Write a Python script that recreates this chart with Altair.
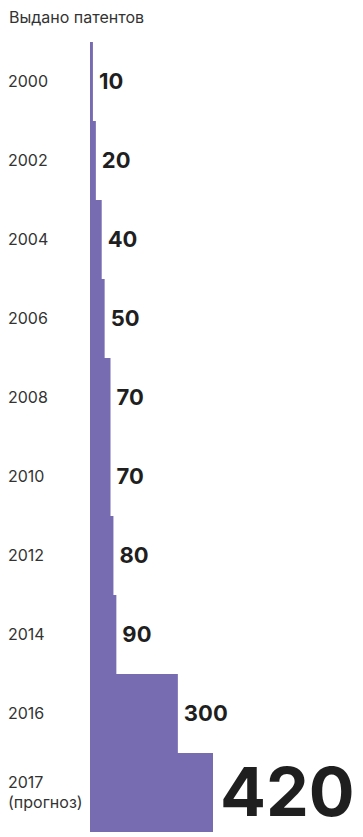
import altair as alt
import pandas as pd

years = ["2000", "2002", "2004", "2006", "2008", "2010", "2012", "2014", "2016", "2017"]
year_labels = ["2000", "2002", "2004", "2006", "2008", "2010", "2012", "2014", "2016", "2017\n(прогноз)"]
patents = [10, 20, 40, 50, 70, 70, 80, 90, 300, 420]
title_text = "Выдано патентов"

df = pd.DataFrame({"year": years, "label": year_labels, "patents": patents})

y = alt.Y("year:N", sort=years, scale=alt.Scale(paddingInner=0, paddingOuter=0), axis=None)
x = alt.X("patents:Q", scale=alt.Scale(domain=[0, 420], range=[82, 205]), axis=None)

base = alt.Chart(df)

bars = base.mark_bar(color="#776bb2").encode(x=x, y=y)

vals = base.transform_filter("datum.year != '2017'").mark_text(
    align="left", baseline="middle", dx=6, font="Inter", fontWeight=700,
    fontSize=22, color="#1f1f1f"
).encode(x=x, y=y, text="patents:Q")

big = base.transform_filter("datum.year == '2017'").mark_text(
    align="left", baseline="middle", dx=7, dy=3, font="Inter", fontWeight=700,
    fontSize=68, color="#1f1f1f"
).encode(x=x, y=y, text="patents:Q")

single = base.transform_filter("datum.year != '2017'").mark_text(
    align="left", baseline="middle", font="Inter", fontSize=16, color="#333333"
).encode(x=alt.value(0), y=y, text="label:N")

multi = base.transform_filter("datum.year == '2017'").mark_text(
    align="left", baseline="middle", lineBreak="\n", lineHeight=20, dy=-10,
    font="Inter", fontSize=16, color="#333333"
).encode(x=alt.value(0), y=y, text="label:N")

title = alt.Chart(pd.DataFrame({"t": [title_text]})).mark_text(
    align="left", baseline="top", font="Inter", fontSize=16, color="#333333"
).encode(x=alt.value(1), y=alt.value(-32), text="t:N")

chart = alt.layer(bars, vals, big, single, multi, title).properties(
    width=347, height=790,
    padding={"left": 0, "top": 34, "right": 0, "bottom": 0},
    autosize=alt.AutoSizeParams(type="none"),
).configure_view(stroke=None)

chart.save("out.html", embed_options={"renderer": "svg", "actions": False})
